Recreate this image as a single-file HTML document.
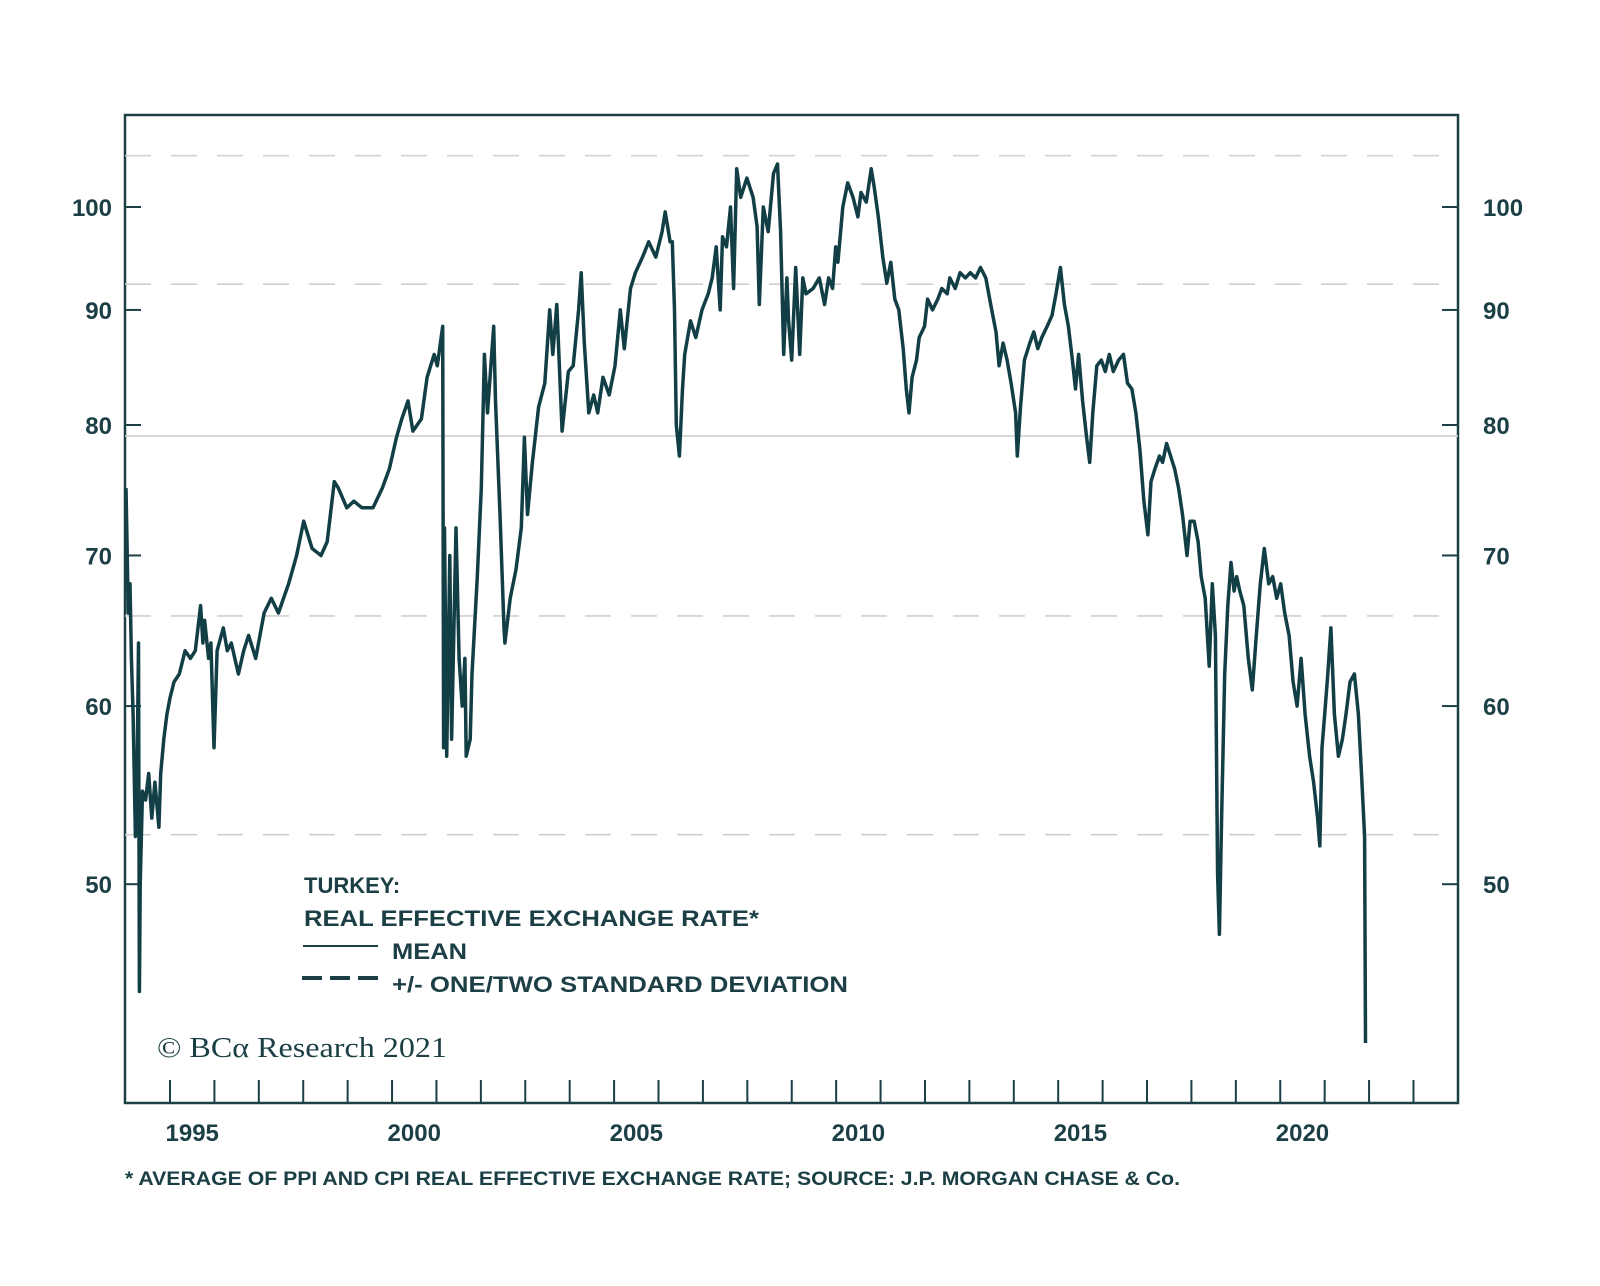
<!DOCTYPE html>
<html><head><meta charset="utf-8"><style>
html,body{margin:0;padding:0;background:#fff;}
svg{display:block;}
text{font-family:"Liberation Sans",Arial,sans-serif;font-weight:bold;fill:#1b3f45;}
</style></head><body>
<svg id="chart" width="1600" height="1286" viewBox="0 0 1600 1286" xmlns="http://www.w3.org/2000/svg">
<rect x="125" y="115" width="1333" height="988" fill="none" stroke="#1b3f45" stroke-width="2.5"/>
<g id="grid"></g><g id="axes"></g><g id="series"></g>
<g>
<text x="304" y="893" font-size="22">TURKEY:</text>
<text x="304" y="926" font-size="22" textLength="455" lengthAdjust="spacingAndGlyphs">REAL EFFECTIVE EXCHANGE RATE*</text>
<line x1="303" y1="946" x2="378" y2="946" stroke="#1b3f45" stroke-width="2"/>
<text x="392" y="959" font-size="22" textLength="75" lengthAdjust="spacingAndGlyphs">MEAN</text>
<line x1="302" y1="978" x2="380" y2="978" stroke="#1b3f45" stroke-width="4" stroke-dasharray="20,8"/>
<text x="392" y="992" font-size="22" textLength="456" lengthAdjust="spacingAndGlyphs">+/- ONE/TWO STANDARD DEVIATION</text>
</g>
<text x="157" y="1057" font-size="29" style="font-family:'Liberation Serif',serif;font-weight:normal" textLength="290" lengthAdjust="spacingAndGlyphs">© BCα Research 2021</text>
<text x="125" y="1185" font-size="19" textLength="1055" lengthAdjust="spacingAndGlyphs">* AVERAGE OF PPI AND CPI REAL EFFECTIVE EXCHANGE RATE; SOURCE: J.P. MORGAN CHASE &amp; Co.</text>
</svg>
<script>
const dates=[1994.01,1994.06,1994.10,1994.13,1994.17,1994.22,1994.26,1994.29,1994.31,1994.33,1994.38,1994.45,1994.52,1994.59,1994.66,1994.75,1994.79,1994.86,1994.93,1995.00,1995.09,1995.21,1995.34,1995.46,1995.57,1995.69,1995.74,1995.78,1995.87,1995.92,1995.99,1996.06,1996.20,1996.29,1996.38,1996.54,1996.66,1996.77,1996.93,1997.12,1997.28,1997.44,1997.67,1997.85,1998.01,1998.20,1998.40,1998.54,1998.70,1998.79,1998.98,1999.14,1999.32,1999.57,1999.78,1999.94,2000.10,2000.22,2000.36,2000.47,2000.66,2000.79,2000.95,2001.02,2001.14,2001.16,2001.18,2001.23,2001.30,2001.34,2001.44,2001.51,2001.58,2001.64,2001.67,2001.76,2001.80,2001.92,2002.01,2002.08,2002.15,2002.29,2002.33,2002.43,2002.52,2002.54,2002.66,2002.79,2002.91,2002.98,2003.05,2003.16,2003.30,2003.44,2003.55,2003.62,2003.71,2003.83,2003.97,2004.08,2004.20,2004.26,2004.33,2004.43,2004.54,2004.63,2004.75,2004.89,2005.02,2005.14,2005.23,2005.37,2005.48,2005.64,2005.78,2005.94,2006.08,2006.15,2006.26,2006.31,2006.36,2006.40,2006.47,2006.54,2006.59,2006.72,2006.84,2006.98,2007.12,2007.21,2007.30,2007.39,2007.44,2007.53,2007.62,2007.69,2007.76,2007.85,2007.99,2008.13,2008.22,2008.27,2008.36,2008.47,2008.59,2008.68,2008.75,2008.82,2008.89,2008.93,2009.00,2009.09,2009.18,2009.25,2009.32,2009.48,2009.62,2009.74,2009.83,2009.92,2009.99,2010.04,2010.15,2010.26,2010.38,2010.49,2010.56,2010.68,2010.79,2010.86,2010.95,2011.05,2011.14,2011.23,2011.32,2011.41,2011.51,2011.58,2011.64,2011.71,2011.81,2011.87,2011.99,2012.06,2012.17,2012.29,2012.38,2012.50,2012.56,2012.68,2012.79,2012.91,2013.02,2013.14,2013.25,2013.37,2013.48,2013.60,2013.67,2013.76,2013.85,2013.94,2014.04,2014.08,2014.15,2014.24,2014.36,2014.45,2014.54,2014.63,2014.75,2014.86,2014.95,2015.05,2015.14,2015.23,2015.32,2015.39,2015.46,2015.55,2015.64,2015.71,2015.78,2015.87,2015.97,2016.06,2016.15,2016.24,2016.36,2016.47,2016.56,2016.66,2016.75,2016.84,2016.93,2017.02,2017.09,2017.18,2017.28,2017.35,2017.44,2017.53,2017.62,2017.71,2017.80,2017.90,2017.97,2018.06,2018.15,2018.22,2018.31,2018.40,2018.47,2018.54,2018.59,2018.63,2018.68,2018.75,2018.82,2018.89,2018.96,2019.02,2019.09,2019.18,2019.28,2019.37,2019.46,2019.55,2019.64,2019.74,2019.83,2019.92,2020.01,2020.10,2020.20,2020.29,2020.38,2020.47,2020.56,2020.66,2020.75,2020.84,2020.89,2020.94,2021.00,2021.07,2021.14,2021.22,2021.31,2021.40,2021.48,2021.57,2021.67,2021.76,2021.83,2021.90,2021.92];
const reer=[75,66,68,63,59.5,52.5,56,64,44.8,50,55,54.5,56,53.5,55.5,53,56,58,59.5,60.5,61.5,62,63.5,63,63.5,66.5,64,65.5,63,64,57.5,63.5,65,63.5,64,62,63.5,64.5,63,66,67,66,68,70,72.5,70.5,70,71,75.5,75,73.5,74,73.5,73.5,75,76.5,79,80.5,82,79.5,80.5,84,86,85,88.5,57.5,72,57,70,58,72,63,60,63,57,58,62,68.5,75,86,81,88.5,82,73,65,64,67,69,72,79,73,77,81.5,83.5,90,86,90.5,79.5,84.5,85,90,93.5,87,81,82.5,81,84,82.5,85,90,86.5,92,93.5,95,96.5,95,97.5,99.5,96.5,96.5,90,80,77.5,83,86,89,87.5,90,91.5,93,96,90,97,96,100,92,104,101,103,101,98,90.5,100,97.5,103.5,104.5,97.5,86,93,89,85.5,94,86,93,91.5,92,93,90.5,93,92,96,94.5,100,102.5,101,99,101.5,100.5,104,102,99,95,92.5,94.5,91,90,86.5,83,81,84,85.5,87.5,88.5,91,90,91,92,91.5,93,92,93.5,93,93.5,93,94,93,90.5,88,85,87,85.5,83.5,81,77.5,81.5,85.5,87,88,86.5,87.5,88.5,89.5,91.5,94,90.5,88.5,85.5,83,86,82,79,77,81,85,85.5,84.5,86,84.5,85.5,86,83.5,83,81,78,74,71.5,75.5,76.5,77.5,77,78.5,77.5,76.5,75,73,70,72.5,72.5,71,68.5,67,62.5,68,64.5,50.5,47.5,53.5,62,66.5,69.5,67.5,68.5,67.5,66.5,63,61,64.5,68,70.5,68,68.5,67,68,66,64.5,61.5,60,63,59.5,57,55.5,53.5,52,57.5,59.5,62,65,59.5,57,58,59.5,61.5,62,59.5,56,52.5,42.5];
const yTicks=[50,60,70,80,90,100];
const xYears=[1995,2000,2005,2010,2015,2020];
const meanValue=79.1;
const sdValues=[105.4,92.4,65.8,52.6];

const NS="http://www.w3.org/2000/svg";
const X0=125,X1=1458,Y0=115,Y1=1103;
function xScale(yr){return 170+(yr-1995)*44.41;}
function yScale(v){return 207+977*Math.log(100/v);}
function mk(tag,attrs,parent){const e=document.createElementNS(NS,tag);for(const k in attrs)e.setAttribute(k,attrs[k]);parent.appendChild(e);return e;}
const grid=document.getElementById('grid'),axes=document.getElementById('axes'),series=document.getElementById('series');

sdValues.forEach(v=>{
  const l=mk('line',{x1:X0,x2:X1,y1:yScale(v),y2:yScale(v),stroke:'#cfcfcf','stroke-width':1.6,'stroke-dasharray':'26,20'},grid);
  
  
});
const ml=mk('line',{x1:X0,x2:X1,y1:yScale(meanValue),y2:yScale(meanValue),stroke:'#cfcfcf','stroke-width':1.6},grid);



yTicks.forEach(v=>{
  const y=yScale(v);
  const t1=mk('line',{x1:X0,x2:X0+16,y1:y,y2:y,stroke:'#1b3f45','stroke-width':2},axes);
  
  
  const t2=mk('line',{x1:X1-16,x2:X1,y1:y,y2:y,stroke:'#1b3f45','stroke-width':2},axes);
  
  
  const a=mk('text',{x:112,y:y+9,'text-anchor':'end','font-size':24},axes);a.textContent=v;
  
  
  const b=mk('text',{x:1483,y:y+9,'font-size':24},axes);b.textContent=v;
  
  
});
for(let yr=1995;yr<=2023;yr++){
  const t=mk('line',{x1:xScale(yr),x2:xScale(yr),y1:Y1-23,y2:Y1,stroke:'#1b3f45','stroke-width':2},axes);
  
  
}
xYears.forEach(yr=>{
  const t=mk('text',{x:xScale(yr+0.5),y:1141,'text-anchor':'middle','font-size':24},axes);t.textContent=yr;
  
  
});
let d='';
dates.forEach((yr,i)=>{d+=(i?'L':'M')+xScale(yr).toFixed(1)+','+yScale(reer[i]).toFixed(1);});
const p=mk('path',{d:d,fill:'none',stroke:'#123e45','stroke-width':3.5,'stroke-linejoin':'round'},series);


</script>
</body></html>
